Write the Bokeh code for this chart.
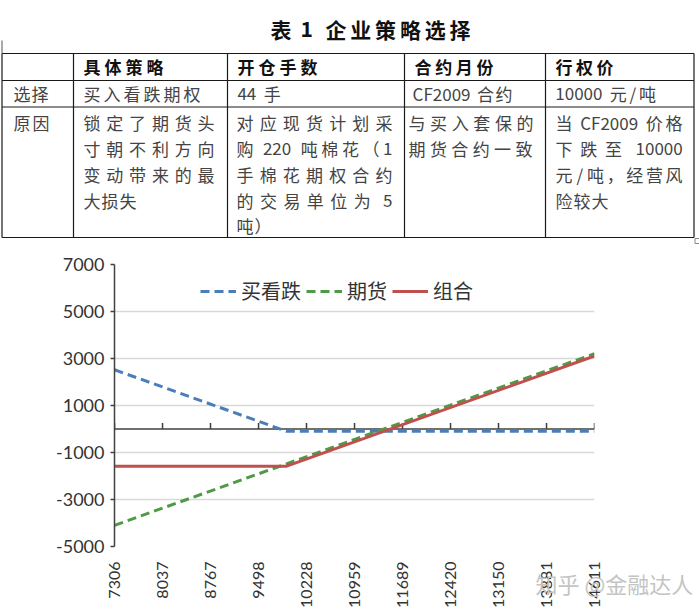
import math
from bokeh.plotting import figure
from bokeh.layouts import column
from bokeh.models import Range1d, FixedTicker, Legend, LegendItem, Label
from bokeh.core.properties import value
from bokeh.embed import file_html
from bokeh.resources import INLINE

# ---------------- data ----------------
title_parts = ["表1", "企业策略选择"]
header = ["", "具体策略", "开仓手数", "合约月份", "行权价"]
row_choice = ["选择", "买入看跌期权", "44 手", "CF2009 合约", "10000 元/吨"]
row_reason = [
    ["原因"],
    ["锁定了期货头", "寸朝不利方向", "变动带来的最", "大损失"],
    ["对应现货计划采", "购 220 吨棉花（1", "手棉花期权合约", "的交易单位为 5", "吨）"],
    ["与买入套保的", "期货合约一致"],
    ["当 CF2009 价格", "下跌至 10000", "元/吨，经营风", "险较大"],
]

series_names = ["买看跌", "期货", "组合"]
x_ticks = [7306, 8037, 8767, 9498, 10228, 10959, 11689, 12420, 13150, 13881, 14611]
x_tick_labels = ["7306", "8037", "8767", "9498", "10228", "10959", "11689",
                 "12420", "13150", "13881", "14611"]
y_ticks = [-5000, -3000, -1000, 1000, 3000, 5000, 7000]
y_tick_labels = ["-5000", "-3000", "-1000", "1000", "3000", "5000", "7000"]

put_x = [7306, 9926, 14611]
put_y = [2520, -100, -100]
fut_x = [7306, 14611]
fut_y = [-4100, 3205]
combo_x = [7306, 9926, 14611]
combo_y = [-1580, -1580, 3105]

watermark = "知乎 @金融达人"

CJK = "Noto Sans CJK SC"
TABLE_H = 245
OVERLAP = 13
TOP_BORDER = 32
CHART_H = 615 - TABLE_H + OVERLAP

# ---------------- table (drawn in pixel space) ----------------
t = figure(width=699, height=TABLE_H, x_range=Range1d(0, 699), y_range=Range1d(TABLE_H, 0),
           output_backend="svg", toolbar_location=None, min_border=0,
           x_axis_location=None, y_axis_location=None)
t.grid.visible = False
t.outline_line_color = None
t.background_fill_color = "white"
t.border_fill_color = "white"
t.frame_align = False


def tokens_of(s):
    toks, buf, sp = [], "", False
    pending_space = False
    for ch in s:
        if ch == " ":
            if buf:
                toks.append((buf, sp))
                buf = ""
            pending_space = True
        elif ord(ch) < 128:
            if not buf:
                sp = pending_space
                pending_space = False
            buf += ch
        else:
            if buf:
                toks.append((buf, sp))
                buf = ""
            toks.append((ch, pending_space))
            pending_space = False
    if buf:
        toks.append((buf, sp))
    return toks


def tok_w(tok, fs):
    if ord(tok[0]) < 128:
        return 0.55 * fs * len(tok)
    return fs


def place(fig, s, left, y, fs, color, right=None, gap=1.0, bold=False):
    toks = tokens_of(s)
    ws = [tok_w(k, fs) for k, _ in toks]
    n = len(toks)
    space_w = 0.35 * fs
    n_sp = sum(1 for _, sp in toks if sp)
    if right is not None and n > 1:
        gap = (right - left - sum(ws) - n_sp * space_w) / (n - 1)
    xs, x = [], left
    for i, ((k, sp), w) in enumerate(zip(toks, ws)):
        if i > 0:
            x += gap + (space_w if sp else 0)
        xs.append(x + w / 2)
        x += w
    fig.text(x=xs, y=[y] * n, text=[k for k, _ in toks], text_font=value(CJK),
             text_font_size=f"{fs}px", text_color=color,
             text_font_style="bold" if bold else "normal",
             text_align="center", text_baseline="middle")


# title
place(t, title_parts[0], 270, 28, 21, "#111111", right=312, bold=True)
place(t, title_parts[1], 325, 28, 21, "#111111", right=470, bold=True)

# grid lines
col_x = [1.5, 73, 227, 404, 545, 693.5]
row_y = [53, 80, 106.5, 237]
t.segment(x0=[col_x[0]] * len(row_y), y0=row_y, x1=[col_x[-1]] * len(row_y), y1=row_y,
          line_color="#1a1a1a", line_width=1.2)
t.segment(x0=col_x, y0=[row_y[0]] * len(col_x), x1=col_x, y1=[row_y[-1]] * len(col_x),
          line_color="#1a1a1a", line_width=1.2)
t.segment(x0=[col_x[0]], y0=[40], x1=[col_x[0]], y1=[row_y[0]], line_color="#555555", line_width=1)
t.rect(x=[697], y=[240.5], width=5, height=5, fill_color=None, line_color="#888888", line_width=1)

# header row
hdr_spans = [None, (83, 163), (237, 317), (414, 493), (555, 613)]
for txt, sp in zip(header, hdr_spans):
    if sp and txt:
        place(t, txt, sp[0], 66, 17, "#111111", right=sp[1], bold=True)

# choice row
ch_layout = [(13, 48), (83, 200), (237, None), (413, None), (555, None)]
for txt, (l, r) in zip(row_choice, ch_layout):
    place(t, txt, l, 93, 17, "#444444", right=r, gap=1.5)

# reason row
line_y = [122, 148, 174, 200, 225]
reason_spans = [
    [(13, 49)],
    [(83, 214), (83, 214), (83, 214), (83, None)],
    [(236, 392), (236, 392), (236, 392), (236, 392), (236, None)],
    [(408, 533), (408, 532)],
    [(555, 682), (555, 682), (555, 682), (555, None)],
]
for lines, spans in zip(row_reason, reason_spans):
    for i, (txt, (l, r)) in enumerate(zip(lines, spans)):
        place(t, txt, l, line_y[i], 17, "#444444", right=r, gap=1.0)

# ---------------- chart ----------------
p = figure(width=699, height=CHART_H, x_range=Range1d(7306, 14611), y_range=Range1d(-5000, 7000),
           output_backend="svg", toolbar_location=None,
           min_border_left=114, min_border_right=105, min_border_top=TOP_BORDER,
           min_border_bottom=69, margin=(-OVERLAP, 0, 0, 0))
p.outline_line_color = None
p.background_fill_color = "white"
p.border_fill_color = None
p.frame_align = False

p.xaxis.ticker = FixedTicker(ticks=x_ticks)
p.xaxis.major_label_overrides = {v: l for v, l in zip(x_ticks, x_tick_labels)}
p.xaxis.major_label_orientation = math.pi / 2
p.xaxis.axis_line_color = None
p.xaxis.major_tick_line_color = None
p.xaxis.minor_tick_line_color = None
p.xaxis.major_label_standoff = 9
p.xaxis.major_label_text_font = "Lato"
p.xaxis.major_label_text_font_size = "16px"
p.xaxis.major_label_text_color = "#333333"

p.yaxis.ticker = FixedTicker(ticks=y_ticks)
p.yaxis.major_label_overrides = {v: l for v, l in zip(y_ticks, y_tick_labels)}
p.yaxis.axis_line_color = "#404040"
p.yaxis.axis_line_width = 1.5
p.yaxis.major_tick_line_color = "#404040"
p.yaxis.major_tick_line_width = 1.5
p.yaxis.major_tick_out = 4
p.yaxis.major_tick_in = 0
p.yaxis.minor_tick_line_color = None
p.yaxis.major_label_standoff = 6
p.yaxis.major_label_text_font = "Lato"
p.yaxis.major_label_text_font_size = "18px"
p.yaxis.major_label_text_color = "#333333"

p.xgrid.grid_line_color = None
p.ygrid.ticker = FixedTicker(ticks=y_ticks)
p.ygrid.grid_line_color = "#D9D9D9"
p.ygrid.grid_line_width = 1.5

# horizontal category axis drawn at y = 0, with upward tick marks
p.segment(x0=[x_ticks[0]], y0=[0], x1=[x_ticks[-1]], y1=[0], line_color="#404040", line_width=1.5)
p.ray(x=x_ticks, y=[0] * len(x_ticks), length=6, length_units="screen", angle=math.pi / 2,
      line_color="#404040", line_width=1.5)

r_put = p.line(put_x, put_y, line_color="#4A7EBB", line_width=3, line_dash="9 5")
r_fut = p.line(fut_x, fut_y, line_color="#4E9A45", line_width=3, line_dash="9 5")
r_combo = p.line(combo_x, combo_y, line_color="#C0504D", line_width=3)

legend = Legend(items=[LegendItem(label=series_names[0], renderers=[r_put]),
                       LegendItem(label=series_names[1], renderers=[r_fut]),
                       LegendItem(label=series_names[2], renderers=[r_combo])],
                orientation="horizontal", location=(86, 241),
                label_text_font=CJK, label_text_font_size="20px", label_text_color="#333333",
                glyph_width=36, glyph_height=20, label_standoff=5, spacing=5,
                padding=0, margin=0, border_line_color=None, background_fill_alpha=0)
p.add_layout(legend)

# watermark (side-panel annotation so it is not clipped to the frame)
p.add_layout(Label(x=13714, y=-6574, text=watermark,
                   text_font=CJK, text_font_size="22px", text_color="#c4c4c4",
                   text_baseline="middle", text_align="left"), "above")

layout = column(t, p, spacing=0)
open("out.html", "w").write(file_html(layout, INLINE))
